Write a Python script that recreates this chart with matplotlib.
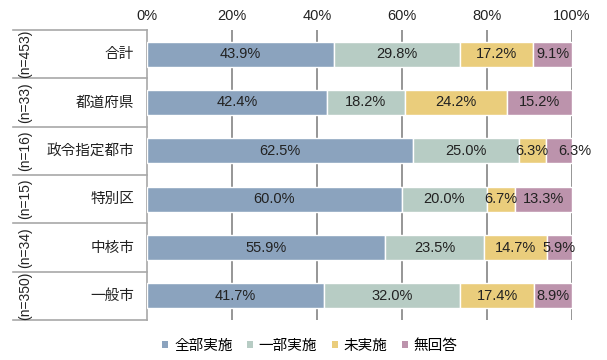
import matplotlib
matplotlib.use("Agg")
import matplotlib.pyplot as plt
import matplotlib.transforms as mtransforms
from matplotlib.patches import Patch
import numpy as np

plt.rcParams['font.family'] = ['Liberation Sans', 'Noto Sans CJK JP', 'DejaVu Sans']

categories = ['合計', '都道府県', '政令指定都市', '特別区', '中核市', '一般市']
n_labels = ['(n=453)', '(n=33)', '(n=16)', '(n=15)', '(n=34)', '(n=350)']
series_names = ['全部実施', '一部実施', '未実施', '無回答']
all_impl = [43.9, 42.4, 62.5, 60.0, 55.9, 41.7]
part_impl = [29.8, 18.2, 25.0, 20.0, 23.5, 32.0]
not_impl = [17.2, 24.2, 6.3, 6.7, 14.7, 17.4]
no_answer = [9.1, 15.2, 6.3, 13.3, 5.9, 8.9]
colors = ['#8BA3BE', '#B7CCC4', '#EACD7C', '#BC93AC']
xticks = [0, 20, 40, 60, 80, 100]

W, H = 607, 360
fig = plt.figure(figsize=(W/100, H/100), dpi=100)
ax = fig.add_axes([147/W, 1-320/H, (572-147)/W, (320-30)/H])

series = [all_impl, part_impl, not_impl, no_answer]
y = np.arange(len(categories))
left = np.zeros(len(categories))
for si, (vals, col) in enumerate(zip(series, colors)):
    vals = np.array(vals)
    ax.barh(y, vals, left=left, height=0.52, color=col, edgecolor='white', linewidth=1.0, zorder=3)
    for yi, l, v in zip(y, left, vals):
        # nudge a small label right when the preceding segment is also small
        dx = 0
        if si == 3 and series[2][yi] < 8 and v < 8:
            dx = 11
        ax.annotate(f'{v:.1f}%', (l + v/2, yi), xytext=(dx, 0), textcoords='offset points',
                    ha='center', va='center', fontsize=10.5, color='#222222', zorder=4)
    left += vals

ax.set_xlim(0, 100)
ax.set_ylim(len(categories)-0.5, -0.5)
ax.set_xticks(xticks)
ax.set_xticklabels([f'{t}%' for t in xticks], fontsize=10.5, color='#222222')
ax.xaxis.tick_top()
ax.tick_params(axis='x', length=0, pad=5)
ax.set_yticks([])
for s in ax.spines.values():
    s.set_visible(False)
for t in xticks[1:]:
    ax.axvline(t, color='#8E8E8E', linewidth=1.3, zorder=1)

# table on the left
trans = mtransforms.blended_transform_factory(ax.transAxes, ax.transData)
x0 = (13-147)/(572-147)
for k in range(len(categories)+1):
    ax.plot([x0, 0], [k-0.5, k-0.5], transform=trans, color='#A8A8A8', linewidth=1.2, clip_on=False, zorder=2)
ax.plot([0, 0], [-0.5, len(categories)-0.5], transform=trans, color='#A8A8A8', linewidth=1.2, clip_on=False, zorder=2)
xcat = (134-147)/(572-147)
xn = (25-147)/(572-147)
for yi, c, nl in zip(y, categories, n_labels):
    ax.text(xcat, yi, c, transform=trans, ha='right', va='center', fontsize=10.5, color='#222222')
    ax.text(xn, yi, nl, transform=trans, ha='center', va='center', rotation=90, fontsize=10, color='#222222')

handles = [Patch(facecolor=c, edgecolor='none') for c in colors]
fig.legend(handles, series_names, loc='center', bbox_to_anchor=(310/W, 1-346/H), ncol=4,
           frameon=False, fontsize=10.5, handlelength=0.4, handleheight=0.4, handletextpad=0.4,
           columnspacing=1.0)

fig.savefig('out.png', dpi=100, facecolor='white')
